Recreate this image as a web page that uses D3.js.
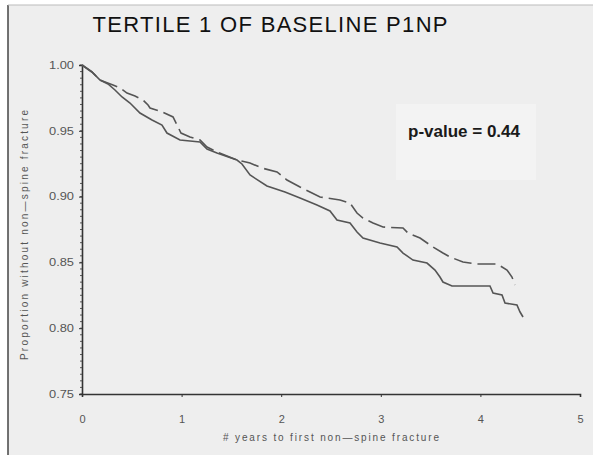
<!DOCTYPE html>
<html>
<head>
<meta charset="utf-8">
<script src="https://cdn.jsdelivr.net/npm/d3@7"></script>
<style>
  html, body { margin: 0; padding: 0; background: #ffffff; }
  svg { display: block; }
</style>
</head>
<body>
<svg id="chart" width="593" height="455"></svg>
<script>
// Kaplan–Meier style survival curves, tertile 1 of baseline P1NP
const titleText = "TERTILE 1 OF BASELINE P1NP";
const xTitle = "# years to first non\u2014spine fracture";
const yTitle = "Proportion without non\u2014spine fracture";
const pValueText = "p-value = 0.44";

const xTicks = [0, 1, 2, 3, 4, 5];
const yTicks = [0.75, 0.80, 0.85, 0.90, 0.95, 1.00];
const yTickLabels = ["0.75", "0.80", "0.85", "0.90", "0.95", "1.00"];

// solid curve (corner points of the step function)
const solidTime = [0, 0.100, 0.181, 0.261, 0.331, 0.402, 0.482, 0.582, 0.703, 0.803, 0.853, 0.984, 1.084, 1.185, 1.255, 1.355, 1.556, 1.606, 1.687, 1.857, 2.038, 2.189, 2.359, 2.490, 2.560, 2.691, 2.761, 2.821, 2.992, 3.163, 3.223, 3.323, 3.464, 3.544, 3.594, 3.624, 3.715, 4.096, 4.127, 4.217, 4.247, 4.367, 4.398, 4.428];
const solidSurv = [1.000, 0.9947, 0.9886, 0.9856, 0.9810, 0.9757, 0.9711, 0.9635, 0.9582, 0.9544, 0.9483, 0.9430, 0.9422, 0.9415, 0.9362, 0.9331, 0.9278, 0.9248, 0.9164, 0.9081, 0.9035, 0.8989, 0.8936, 0.8891, 0.8822, 0.8799, 0.8731, 0.8685, 0.8647, 0.8617, 0.8571, 0.8518, 0.8495, 0.8442, 0.8389, 0.8351, 0.8321, 0.8321, 0.8267, 0.8252, 0.8191, 0.8176, 0.8123, 0.8085];

// dashed curve (corner points of the step function)
const dashedTime = [0, 0.100, 0.181, 0.311, 0.382, 0.452, 0.532, 0.612, 0.663, 0.683, 0.783, 0.914, 0.954, 0.994, 1.084, 1.185, 1.255, 1.355, 1.556, 1.687, 1.807, 1.958, 2.058, 2.189, 2.289, 2.390, 2.590, 2.691, 2.761, 2.821, 2.922, 3.022, 3.223, 3.273, 3.394, 3.524, 3.624, 3.695, 3.825, 3.966, 4.167, 4.267, 4.317, 4.347];
const dashedSurv = [1.000, 0.9947, 0.9886, 0.9848, 0.9825, 0.9787, 0.9764, 0.9734, 0.9696, 0.9673, 0.9650, 0.9605, 0.9544, 0.9483, 0.9453, 0.9430, 0.9377, 0.9339, 0.9278, 0.9255, 0.9217, 0.9187, 0.9126, 0.9073, 0.9035, 0.8997, 0.8974, 0.8951, 0.8875, 0.8837, 0.8799, 0.8769, 0.8761, 0.8723, 0.8685, 0.8617, 0.8571, 0.8541, 0.8503, 0.8488, 0.8488, 0.8442, 0.8389, 0.8328];

const W = 593, H = 455;
const svg = d3.select("#chart");
const font = "'Liberation Sans', Arial, Helvetica, sans-serif";

// page background and frame
svg.append("rect").attr("x", 0).attr("y", 0).attr("width", W).attr("height", H).attr("fill", "#ffffff");
svg.append("rect").attr("x", 8).attr("y", 5).attr("width", W - 8).attr("height", H - 5)
  .attr("fill", "#eeeeee");
svg.append("line").attr("x1", 8).attr("x2", 8).attr("y1", 5).attr("y2", H)
  .attr("stroke", "#444").attr("stroke-width", 1.5);
svg.append("line").attr("x1", 8).attr("x2", W).attr("y1", 5).attr("y2", 5)
  .attr("stroke", "#bbb").attr("stroke-width", 1);

const x = d3.scaleLinear().domain([0, 5]).range([82, 580]);
const y = d3.scaleLinear().domain([0.75, 1.0]).range([394, 65]);

// title
svg.append("text")
  .attr("x", 270).attr("y", 32)
  .attr("text-anchor", "middle")
  .attr("font-family", font).attr("font-size", 22)
  .attr("textLength", 355).attr("lengthAdjust", "spacing")
  .attr("fill", "#111")
  .text(titleText);

// p-value box
svg.append("rect").attr("x", 396).attr("y", 104).attr("width", 140).attr("height", 76)
  .attr("fill", "#f3f3f3");
svg.append("text")
  .attr("x", 408).attr("y", 137)
  .attr("font-family", font).attr("font-size", 17).attr("font-weight", "bold")
  .attr("fill", "#1a1a1a")
  .text(pValueText);

// axes
const axisColor = "#333";
const labelColor = "#555";

const yAxis = svg.append("g").attr("transform", `translate(${x(0)},0)`)
  .call(d3.axisLeft(y).tickValues(yTicks).tickSize(3)
    .tickFormat((d, i) => yTickLabels[i]));
yAxis.select(".domain").attr("stroke", axisColor).attr("stroke-width", 1.6);
yAxis.selectAll(".tick line").attr("stroke", axisColor);
yAxis.selectAll(".tick text")
  .attr("font-family", font).attr("font-size", 10).attr("fill", labelColor)
  .attr("x", -8)
  .attr("textLength", 25).attr("lengthAdjust", "spacingAndGlyphs");

// minor ticks along the y axis
const minorY = d3.range(0.75, 1.0001, 0.005);
svg.append("g").selectAll("line").data(minorY).join("line")
  .attr("x1", x(0) - 2).attr("x2", x(0))
  .attr("y1", d => y(d)).attr("y2", d => y(d))
  .attr("stroke", axisColor).attr("stroke-width", 0.8);

const xAxis = svg.append("g").attr("transform", `translate(0,${y(0.75)})`)
  .call(d3.axisBottom(x).tickValues(xTicks).tickSize(3).tickFormat(d3.format("d")));
xAxis.select(".domain").attr("stroke", axisColor).attr("stroke-width", 1.6);
xAxis.selectAll(".tick line").attr("stroke", axisColor);
xAxis.selectAll(".tick text")
  .attr("font-family", font).attr("font-size", 11).attr("fill", labelColor)
  .attr("y", 21);

// axis titles
svg.append("text")
  .attr("x", 331).attr("y", 441)
  .attr("text-anchor", "middle")
  .attr("font-family", font).attr("font-size", 10).attr("fill", labelColor)
  .attr("textLength", 216).attr("lengthAdjust", "spacing")
  .text(xTitle);

svg.append("text")
  .attr("transform", "translate(28,235) rotate(-90)")
  .attr("text-anchor", "middle")
  .attr("font-family", font).attr("font-size", 10).attr("fill", labelColor)
  .attr("textLength", 250).attr("lengthAdjust", "spacing")
  .text(yTitle);

// survival curves through the step corners
const line = d3.line()
  .x(d => x(d[0]))
  .y(d => y(d[1]))
  .curve(d3.curveLinear);

const solidData = solidTime.map((t, i) => [t, solidSurv[i]]);
const dashedData = dashedTime.map((t, i) => [t, dashedSurv[i]]);

svg.append("path").datum(dashedData)
  .attr("d", line)
  .attr("fill", "none").attr("stroke", "#555").attr("stroke-width", 1.6)
  .attr("stroke-dasharray", "18,6");

svg.append("path").datum(solidData)
  .attr("d", line)
  .attr("fill", "none").attr("stroke", "#555").attr("stroke-width", 1.6);
</script>
</body>
</html>
